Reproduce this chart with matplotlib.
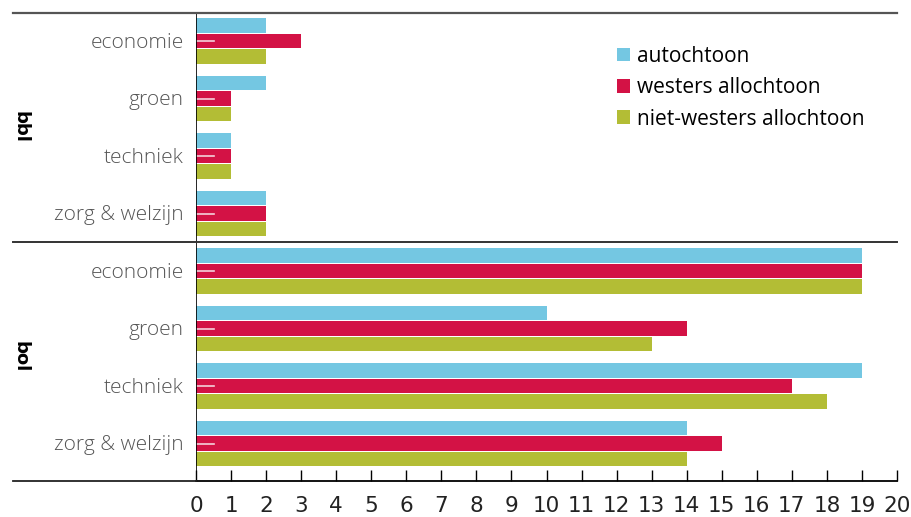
import numpy as np
import matplotlib.pyplot as plt
from matplotlib.lines import Line2D

# data
categories = ['economie', 'groen', 'techniek', 'zorg & welzijn']
groups = ['bbl', 'bol']
series = ['autochtoon', 'westers allochtoon', 'niet-westers allochtoon']
colors = ['#74c7e2', '#d31245', '#b3bd35']

bbl_autochtoon = [2, 2, 1, 2]
bbl_westers = [3, 1, 1, 2]
bbl_nietwesters = [2, 1, 1, 2]
bol_autochtoon = [19, 10, 19, 14]
bol_westers = [19, 14, 17, 15]
bol_nietwesters = [19, 13, 18, 14]

W, H = 911, 517
fig = plt.figure(figsize=(W / 100, H / 100), dpi=100)
ax = fig.add_axes([196 / W, 1 - 481 / H, (897 - 196) / W, (481 - 13) / H])

vals = [bbl_autochtoon + bol_autochtoon,
        bbl_westers + bol_westers,
        bbl_nietwesters + bol_nietwesters]
pos = np.arange(8)
offsets = [-0.27, 0, 0.27]
for v, off, c, name in zip(vals, offsets, colors, series):
    ax.barh(pos + off, v, height=0.25, color=c, label=name, zorder=2)

# small white marks on the red bars
for p in pos:
    ax.plot([0, 0.5], [p, p], color='#f4d0da', lw=1.2, zorder=3)

ax.set_xlim(0, 20)
ax.set_ylim(7.652, -0.487)
ax.set_xticks(range(21))
ax.tick_params(axis='x', direction='in', length=8, width=1, pad=11,
               labelsize=15.5, labelcolor='#222222')
ax.set_yticks([])
for s in ['top', 'right', 'left']:
    ax.spines[s].set_visible(False)
ax.spines['bottom'].set_linewidth(1.3)
ax.axvline(0, color='black', lw=1.2, zorder=4)

for lbl in ax.get_xticklabels():
    lbl.set_family('Liberation Sans Narrow')

# category labels
for p, lab in zip(pos, categories * 2):
    ax.text(-0.35, p + 0.03, lab, ha='right', va='center', fontsize=15,
            color='#555555', family='Open Sans', fontweight='light')

# group labels
fig.text(20 / W, 1 - 127 / H, 'bbl', rotation=270, ha='center', va='center',
         fontsize=13, fontweight='bold')
fig.text(20 / W, 1 - 357 / H, 'bol', rotation=270, ha='center', va='center',
         fontsize=13, fontweight='bold')

# horizontal rules across the full width
fig.add_artist(Line2D([13 / W, 897 / W], [1 - 13 / H] * 2, color='#555555', lw=1.6))
fig.add_artist(Line2D([13 / W, 897 / W], [1 - 242 / H] * 2, color='#333333', lw=1.4))
fig.add_artist(Line2D([13 / W, 196 / W], [1 - 481 / H] * 2, color='#222222', lw=1.3))

ax.legend(loc='upper left', bbox_to_anchor=(0.6006, 0.93), frameon=False,
          handlelength=0.63, handleheight=0.63, handletextpad=0.35,
          labelspacing=0.5, borderpad=0, borderaxespad=0,
          prop={'family': 'Open Sans', 'size': 15})

fig.savefig('out.png', dpi=100)
